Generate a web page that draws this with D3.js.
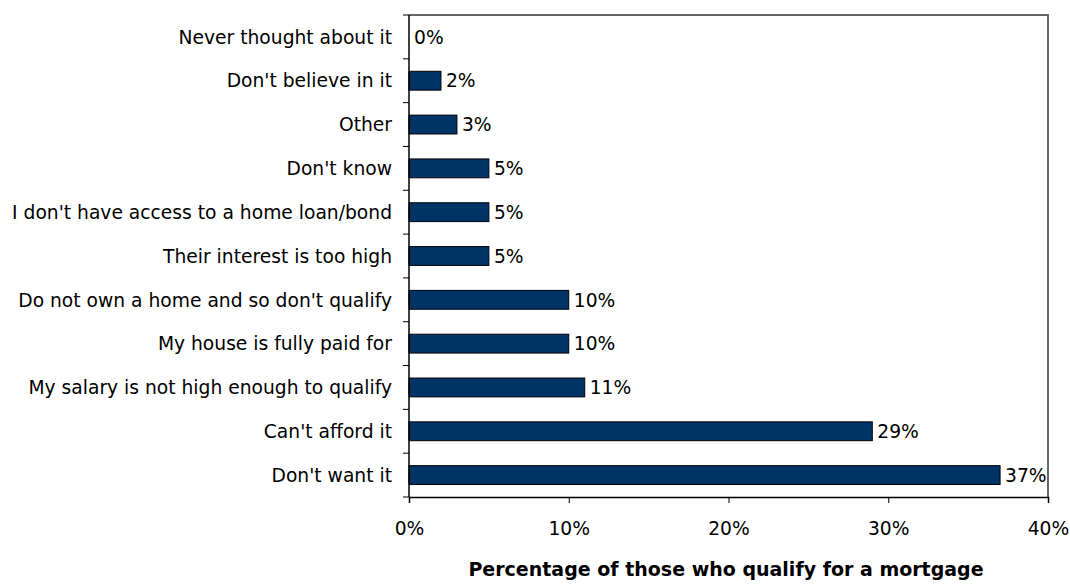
<!DOCTYPE html>
<html>
<head>
<meta charset="utf-8">
<script src="https://cdn.jsdelivr.net/npm/d3@7"></script>
<style>
  html, body { margin: 0; padding: 0; background: #fff; }
  svg { display: block; }
  text { font-family: "DejaVu Sans", Verdana, sans-serif; fill: #000; }
</style>
</head>
<body>
<svg id="chart" width="1070" height="584"></svg>
<script>
// Reasons for not taking a mortgage (top to bottom)
const categories = [
  "Never thought about it",
  "Don't believe in it",
  "Other",
  "Don't know",
  "I don't have access to a home loan/bond",
  "Their interest is too high",
  "Do not own a home and so don't qualify",
  "My house is fully paid for",
  "My salary is not high enough to qualify",
  "Can't afford it",
  "Don't want it"
];
const values = [0, 2, 3, 5, 5, 5, 10, 10, 11, 29, 37];
const xTicks = [0, 10, 20, 30, 40];
const xTitle = "Percentage of those who qualify for a mortgage";

const FONT = 18.7;
const svg = d3.select("#chart");
const plot = { left: 409, right: 1048, top: 15, bottom: 497 };

const x = d3.scaleLinear().domain([0, 40]).range([plot.left, plot.right]);
const y = d3.scaleBand().domain(categories).range([plot.top, plot.bottom])
  .paddingInner(0.57).paddingOuter(0.285);
const yEdges = d3.scaleBand().domain(categories).range([plot.top, plot.bottom]);

// plot frame (top and right)
svg.append("path")
  .attr("d", `M${plot.left},${plot.top}H${plot.right}V${plot.bottom}`)
  .attr("fill", "none").attr("stroke", "#666").attr("stroke-width", 2);

// bars
svg.append("g").selectAll("rect").data(values).join("rect")
  .attr("x", x(0))
  .attr("y", (d, i) => y(categories[i]))
  .attr("width", d => x(d) - x(0))
  .attr("height", y.bandwidth())
  .attr("fill", "#003366")
  .attr("stroke", "#000").attr("stroke-width", 1)
  .attr("display", d => d > 0 ? null : "none");

// value labels
svg.append("g").selectAll("text").data(values).join("text")
  .attr("x", d => x(d) + 5)
  .attr("y", (d, i) => y(categories[i]) + y.bandwidth() / 2)
  .attr("dy", "0.36em")
  .attr("font-size", FONT)
  .text(d => d + "%");

// y axis with ticks between categories
const yAxis = svg.append("g");
yAxis.append("line")
  .attr("x1", plot.left).attr("x2", plot.left)
  .attr("y1", plot.top).attr("y2", plot.bottom)
  .attr("stroke", "#000").attr("stroke-width", 1.5);
yAxis.selectAll("line.tick").data(categories.concat(["end"])).join("line")
  .attr("class", "tick")
  .attr("x1", plot.left - 6).attr("x2", plot.left)
  .attr("y1", (d, i) => i < categories.length ? yEdges(d) : plot.bottom)
  .attr("y2", (d, i) => i < categories.length ? yEdges(d) : plot.bottom)
  .attr("stroke", "#000").attr("stroke-width", 1);
yAxis.selectAll("text").data(categories).join("text")
  .attr("x", plot.left - 17)
  .attr("y", d => y(d) + y.bandwidth() / 2)
  .attr("dy", "0.36em")
  .attr("text-anchor", "end")
  .attr("font-size", FONT)
  .text(d => d);

// x axis
const xAxis = svg.append("g").attr("transform", `translate(0,${plot.bottom})`)
  .call(d3.axisBottom(x).tickValues(xTicks).tickFormat(d => d + "%").tickSize(6));
xAxis.select(".domain").attr("stroke", "#000").attr("stroke-width", 1.5);
xAxis.selectAll(".tick line").attr("stroke", "#000");
xAxis.selectAll(".tick text")
  .attr("y", 38).attr("dy", 0)
  .attr("font-size", FONT)
  .style("font-family", '"DejaVu Sans", Verdana, sans-serif').attr("fill", "#000");

// x axis title
svg.append("text")
  .attr("x", 726)
  .attr("y", 576)
  .attr("text-anchor", "middle")
  .attr("font-size", 19)
  .attr("font-weight", "bold")
  .text(xTitle);
</script>
</body>
</html>
